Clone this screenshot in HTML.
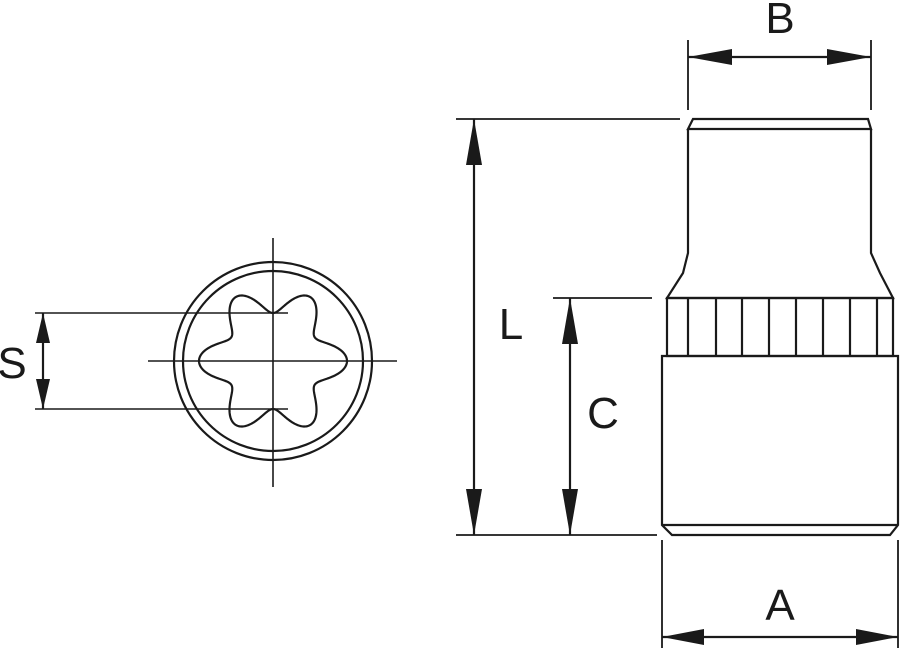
<!DOCTYPE html>
<html><head><meta charset="utf-8"><style>
html,body{margin:0;padding:0;background:#fff;}
svg{display:block;}
text{font-family:"Liberation Sans",Arial,sans-serif;fill:#1a1a1a;}
</style></head><body>
<svg width="900" height="651" viewBox="0 0 900 651" xmlns="http://www.w3.org/2000/svg">
<g stroke="#1a1a1a" fill="none" stroke-width="2.2">
<circle cx="273" cy="361" r="99"/>
<circle cx="273" cy="361" r="90"/>
<path id="torx" d=""/>
<line x1="273" y1="238" x2="273" y2="487" stroke-width="1.6"/>
<line x1="148" y1="361" x2="397" y2="361" stroke-width="1.6"/>
<line x1="35" y1="313" x2="288" y2="313" stroke-width="1.6"/>
<line x1="35" y1="409" x2="288" y2="409" stroke-width="1.6"/>
<line x1="43" y1="313" x2="43" y2="409"/>

<path d="M693 119 L868 119 L871 129 L688 129 Z"/>
<path d="M688 129 L688 253 L683 273 L667 298 L893 298 L880 273 L871 253 L871 129"/>
<rect x="667" y="298" width="226" height="58"/>
<line x1="688" y1="298" x2="688" y2="356"/>
<line x1="716" y1="298" x2="716" y2="356"/>
<line x1="742" y1="298" x2="742" y2="356"/>
<line x1="769" y1="298" x2="769" y2="356"/>
<line x1="796" y1="298" x2="796" y2="356"/>
<line x1="823" y1="298" x2="823" y2="356"/>
<line x1="850" y1="298" x2="850" y2="356"/>
<line x1="877" y1="298" x2="877" y2="356"/>
<path d="M662 356 L898 356 L898 525 L890 535 L672 535 L662 525 Z"/>
<line x1="662" y1="525" x2="898" y2="525"/>

<line x1="456" y1="119" x2="680" y2="119" stroke-width="1.8"/>
<line x1="456" y1="535" x2="657" y2="535" stroke-width="1.8"/>
<line x1="474" y1="119" x2="474" y2="535"/>
<line x1="553" y1="298" x2="652" y2="298" stroke-width="1.8"/>
<line x1="570" y1="298" x2="570" y2="535"/>
<line x1="688" y1="40" x2="688" y2="110" stroke-width="1.8"/>
<line x1="871" y1="40" x2="871" y2="110" stroke-width="1.8"/>
<line x1="688" y1="57" x2="871" y2="57"/>
<line x1="662" y1="540" x2="662" y2="648" stroke-width="1.8"/>
<line x1="898" y1="540" x2="898" y2="648" stroke-width="1.8"/>
<line x1="662" y1="637" x2="898" y2="637"/>
</g>
<g fill="#1a1a1a">
<polygon points="43,313 36,343 50,343"/>
<polygon points="43,409 36,379 50,379"/>
<polygon points="474,119 466,165 482,165"/>
<polygon points="474,535 466,489 482,489"/>
<polygon points="570,298 562,344 578,344"/>
<polygon points="570,535 562,489 578,489"/>
<polygon points="688,57 732,49 732,65"/>
<polygon points="871,57 827,49 827,65"/>
<polygon points="662,637 704,629 704,645"/>
<polygon points="898,637 856,629 856,645"/>
</g>
<text x="12" y="378" font-size="44" text-anchor="middle">S</text>
<text x="511" y="339" font-size="44" text-anchor="middle">L</text>
<text x="603" y="428" font-size="44" text-anchor="middle">C</text>
<text x="780" y="33" font-size="44" text-anchor="middle">B</text>
<text x="780" y="620" font-size="44" text-anchor="middle">A</text>
<script>
(function(){
var cx=273,cy=361,d="";
for(var i=0;i<=720;i++){
 var t=i*Math.PI/360;
 var r=61+13*Math.cos(6*t);
 var x=cx+r*Math.cos(t),y=cy+r*Math.sin(t);
 d+=(i?"L":"M")+x.toFixed(2)+" "+y.toFixed(2);
}
document.getElementById("torx").setAttribute("d",d+"Z");
})();
</script>
</svg>
</body></html>
